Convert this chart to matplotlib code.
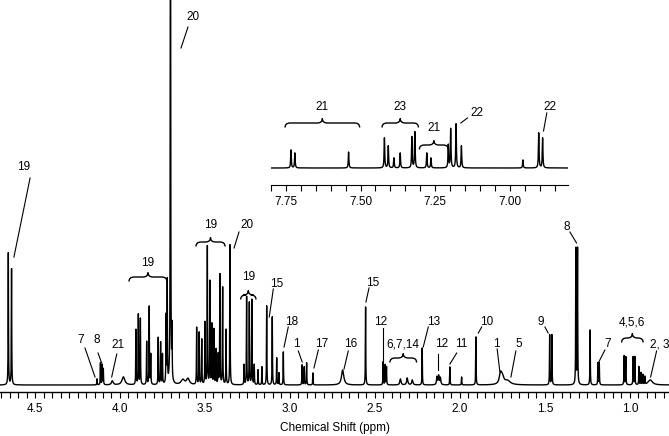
import numpy as np
import matplotlib
matplotlib.use("Agg")
import matplotlib.pyplot as plt
from matplotlib.path import Path
from matplotlib.patches import PathPatch
from matplotlib.ticker import MultipleLocator, FormatStrFormatter

plt.rcParams['font.family'] = ['Liberation Sans', 'DejaVu Sans']

# ---------------- main spectrum peaks (ppm, height, half-width) ----------------
main_ppm = [4.657, 4.638, 4.135, 4.115, 4.105, 4.098, 4.045, 3.980,
            3.906, 3.892, 3.880, 3.843, 3.828, 3.819, 3.775, 3.761, 3.750,
            3.729, 3.722, 3.703, 3.694, 3.630, 3.600,
            3.549, 3.534, 3.519, 3.500, 3.486, 3.471, 3.459, 3.447, 3.435,
            3.422, 3.412, 3.396, 3.376, 3.353,
            3.270, 3.255, 3.239, 3.224, 3.210, 3.188, 3.165,
            3.137, 3.104, 3.078, 3.065, 3.039,
            2.929, 2.916, 2.902, 2.865, 2.690, 2.555,
            2.452, 2.440, 2.432, 2.350, 2.310, 2.280, 2.222,
            2.135, 2.125, 2.115, 2.059, 1.990, 1.906, 1.761, 1.750, 1.720,
            1.472, 1.459, 1.318, 1.308, 1.234, 1.188, 1.180,
            1.034, 1.024, 0.981, 0.971, 0.947, 0.935, 0.924, 0.912, 0.880]
main_height = [132, 116, 6, 22, 20, 16, 4, 8,
               55, 70, 66, 43, 78, 30, 47, 42, 30,
               67, 102, 800, 50, 5, 6,
               57, 52, 45, 62, 138, 103, 60, 55, 35,
               30, 110, 97, 55, 140,
               20, 88, 82, 85, 20, 15, 18,
               79, 68, 27, 12, 33,
               20, 18, 22, 12, 15, 78,
               23, 20, 18, 6, 7, 5, 37,
               8, 9, 7, 18, 8, 48, 10, 7, 4,
               50, 50, 136, 136, 55, 22, 22,
               29, 28, 28, 28, 18, 12, 10, 8, 5]
main_width = [0.0012] * len(main_ppm)
broad = {4.045: 0.006, 3.980: 0.010, 3.630: 0.012, 3.600: 0.010, 2.690: 0.008,
         2.350: 0.004, 2.310: 0.004, 2.280: 0.004, 2.135: 0.003, 2.125: 0.003,
         2.115: 0.003, 1.761: 0.008, 1.750: 0.010, 1.720: 0.02, 0.880: 0.015}
main_width = [broad.get(p, w) for p, w in zip(main_ppm, main_width)]

# ---------------- inset (aromatic) peaks ----------------
ins_ppm = [7.733, 7.720, 7.540, 7.420, 7.407, 7.388, 7.367, 7.328, 7.318,
           7.278, 7.264, 7.206, 7.198, 7.180, 7.162, 6.956, 6.903, 6.890]
ins_height = [18, 15, 16, 30, 22, 10, 15, 31, 36,
              15, 10, 23, 39, 44, 22, 8, 35, 30]
ins_width = [0.0012] * len(ins_ppm)

# ---------------- labels ----------------
main_xticks = [4.5, 4.0, 3.5, 3.0, 2.5, 2.0, 1.5, 1.0]
xlabel = "Chemical Shift (ppm)"

# (text, text_ppm, text_h, line_start_ppm, line_start_h, line_end_ppm, line_end_h)
main_labels = [
    ("20", 3.571, 368, 3.600, 358, 3.641, 337),
    ("19", 4.565, 218, 4.529, 207, 4.624, 128),
    ("7", 4.229, 45, 4.206, 37, 4.147, 8),
    ("8", 4.135, 45, 4.129, 32, 4.108, 22),
    ("21", 4.012, 40, 4.019, 31, 4.049, 8),
    ("20", 3.255, 160, 3.300, 153, 3.329, 137),
    ("15", 3.078, 101, 3.098, 96, 3.122, 68),
    ("18", 2.990, 63, 3.010, 58, 3.035, 38),
    ("1", 2.965, 41, 2.951, 34, 2.928, 23),
    ("17", 2.814, 41, 2.833, 35, 2.859, 17),
    ("16", 2.641, 41, 2.657, 34, 2.682, 16),
    ("15", 2.514, 102, 2.535, 97, 2.553, 83),
    ("12", 2.466, 63, 2.455, 57, 2.455, 23),
    ("13", 2.157, 63, 2.186, 58, 2.216, 38),
    ("12", 2.108, 41, 2.128, 31, 2.128, 15),
    ("11", 1.990, 41, 2.019, 32, 2.059, 21),
    ("10", 1.843, 63, 1.872, 58, 1.892, 52),
    ("1", 1.784, 41, 1.781, 36, 1.765, 13),
    ("5", 1.653, 41, 1.671, 34, 1.700, 8),
    ("9", 1.524, 63, 1.500, 58, 1.481, 52),
    ("8", 1.372, 158, 1.353, 153, 1.314, 142),
    ("7", 1.128, 41, 1.147, 35, 1.186, 22),
    ("2, 3", 0.824, 41, 0.843, 34, 0.878, 8),
]
# (text, ppm_left, ppm_right, brace_h, text_h)
main_braces = [
    ("19", 3.947, 3.724, 108, 122),
    ("19", 3.553, 3.382, 143, 160),
    ("19", 3.290, 3.200, 90, 108),
    ("6,7,14", 2.412, 2.255, 27, 41),
    ("4,5,6", 1.049, 0.922, 47, 63),
]
ins_labels = [
    ("22", 7.109, 55, 7.142, 50, 7.164, 45),
    ("22", 6.864, 61, 6.876, 55, 6.887, 37),
]
ins_braces = [
    ("21", 7.753, 7.503, 45, 61),
    ("23", 7.428, 7.306, 45, 61),
    ("21", 7.303, 7.206, 23, 40),
]
ins_xticks = [7.75, 7.50, 7.25, 7.00]


def spectrum(x, ppm, h, w):
    y = np.zeros_like(x)
    for p, a, ww in zip(ppm, h, w):
        y += a / (1.0 + ((x - p) / ww) ** 2)
    return y


def brace(ax, x1, x2, y, d, r, lw=1.0):
    s = np.sign(x2 - x1)
    xm = 0.5 * (x1 + x2)
    verts = [(x1, y - d), (x1, y), (x1 + s * r, y),
             (xm - s * r, y), (xm, y), (xm, y + d),
             (xm, y), (xm + s * r, y),
             (x2 - s * r, y), (x2, y), (x2, y - d)]
    codes = [Path.MOVETO, Path.CURVE3, Path.CURVE3,
             Path.LINETO, Path.CURVE3, Path.CURVE3,
             Path.CURVE3, Path.CURVE3,
             Path.LINETO, Path.CURVE3, Path.CURVE3]
    ax.add_patch(PathPatch(Path(verts, codes), fill=False, lw=lw,
                           edgecolor='black', clip_on=False))


fig = plt.figure(figsize=(6.69, 4.36), dpi=100)
ax = fig.add_axes([0.0, 0.1009, 1.0, 0.8991])
x = np.linspace(0.77, 4.71, 60000)
ax.plot(x, spectrum(x, main_ppm, main_height, main_width), color='black', lw=1.0)
ax.set_xlim(4.706, 0.77)
ax.set_ylim(-7, 385)
for s in ['top', 'left', 'right']:
    ax.spines[s].set_visible(False)
ax.spines['bottom'].set_linewidth(1.0)
ax.set_yticks([])
ax.set_xticks(main_xticks)
ax.xaxis.set_major_formatter(FormatStrFormatter('%.1f'))
ax.xaxis.set_minor_locator(MultipleLocator(0.05))
ax.tick_params(axis='x', which='both', direction='out', length=4, width=0.8,
               labelsize=8.5, pad=4)
ax.set_xlabel(xlabel, fontsize=8.5, labelpad=5)
ax.patch.set_visible(False)

for t, tx, ty, x1, y1, x2, y2 in main_labels:
    ax.text(tx, ty, t, ha='center', va='center', fontsize=8.5, clip_on=False)
    ax.plot([x1, x2], [y1, y2], color='black', lw=0.8, clip_on=False)
for t, xa, xb, yb, ty in main_braces:
    brace(ax, xa, xb, yb, 4.5, 0.03)
    ax.text(0.5 * (xa + xb), ty, t, ha='center', va='center', fontsize=8.5)

# inset
ai = fig.add_axes([271 / 669, (436 - 185) / 436, 297 / 669, 90 / 436])
xi = np.linspace(6.80, 7.80, 20000)
ai.plot(xi, spectrum(xi, ins_ppm, ins_height, ins_width), color='black', lw=1.0)
ai.set_xlim(7.80, 6.805)
ai.set_ylim(-17, 73)
for s in ['top', 'left', 'right']:
    ai.spines[s].set_visible(False)
ai.set_yticks([])
ai.set_xticks(ins_xticks)
ai.xaxis.set_major_formatter(FormatStrFormatter('%.2f'))
ai.xaxis.set_minor_locator(MultipleLocator(0.05))
ai.tick_params(axis='x', which='both', direction='out', length=4, width=0.8,
               labelsize=8.5, pad=4)
ai.patch.set_visible(False)
for t, tx, ty, x1, y1, x2, y2 in ins_labels:
    ai.text(tx, ty, t, ha='center', va='center', fontsize=8.5, clip_on=False)
    ai.plot([x1, x2], [y1, y2], color='black', lw=0.8, clip_on=False)
for t, xa, xb, yb, ty in ins_braces:
    brace(ai, xa, xb, yb, 4.5, 0.017)
    ai.text(0.5 * (xa + xb), ty, t, ha='center', va='center', fontsize=8.5)

fig.savefig("out.png", dpi=100)
